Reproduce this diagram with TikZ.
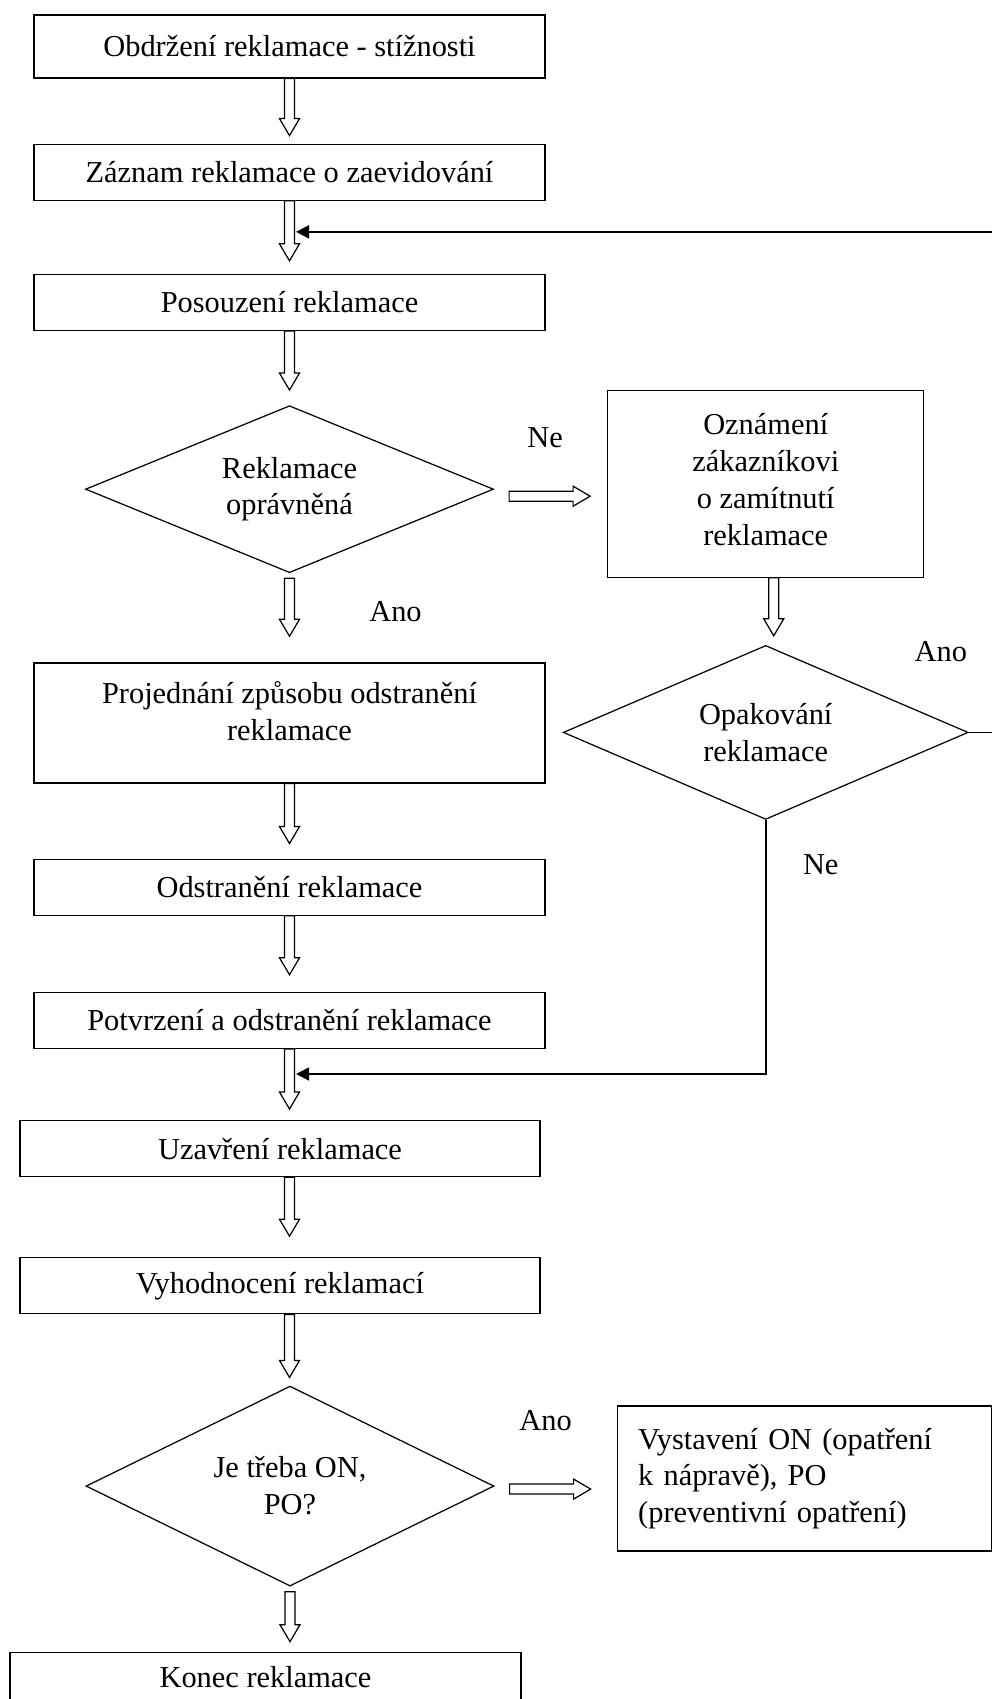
\documentclass[tikz,border=0pt]{standalone}
\usepackage{fontspec}
\setmainfont{Liberation Serif}
\usetikzlibrary{arrows.meta,positioning,calc,shapes.geometric}

% hollow block arrows (shaft + open head)
\newcommand{\hdown}[2]{%
  \draw[hollow] let \p1=#1, \p2=#2 in
    (\x1-0.1cm,\y1) -- (\x1-0.1cm,\y2+0.34cm) -- (\x1-0.2cm,\y2+0.34cm) -- (\x1,\y2)
    -- (\x1+0.2cm,\y2+0.34cm) -- (\x1+0.1cm,\y2+0.34cm) -- (\x1+0.1cm,\y1) -- cycle;}
\newcommand{\hright}[2]{%
  \draw[hollow] let \p1=#1, \p2=#2 in
    (\x1,\y1-0.1cm) -- (\x2-0.34cm,\y1-0.1cm) -- (\x2-0.34cm,\y1-0.2cm) -- (\x2,\y1)
    -- (\x2-0.34cm,\y1+0.2cm) -- (\x2-0.34cm,\y1+0.1cm) -- (\x1,\y1+0.1cm) -- cycle;}

\begin{document}
\begin{tikzpicture}[font=\fontsize{17.3}{21}\selectfont, >=Latex]
  \tikzstyle{box}=[draw, line width=0.7pt, align=center, minimum width=10.22cm, minimum height=1.12cm, inner sep=0pt]
  \tikzstyle{decide}=[draw, diamond, aspect=2.4, line width=0.7pt, align=center, inner sep=0pt, minimum width=8.16cm, minimum height=3.34cm]
  \tikzstyle{hollow}=[draw, fill=white, line width=0.7pt]
  \tikzstyle{fback}=[line width=1pt, -{Triangle[length=0.26cm,width=0.26cm]}]
  \tikzstyle{lbl}=[inner sep=0pt]

  \useasboundingbox (0,0) rectangle (19.84,-33.98);
  \clip (0,0) rectangle (19.84,-33.98);

  % main column
  \node[box, minimum height=1.26cm] (b1) at (5.79,-0.93) {Obdržení reklamace - stížnosti};
  \node[box, below=1.30cm of b1] (b2) {Záznam reklamace o zaevidování};
  \node[box, below=1.46cm of b2] (b3) {Posouzení reklamace};
  \node[decide, below=1.48cm of b3] (d1) {Reklamace\\oprávněná};
  \node[box, minimum height=2.4cm, text depth=0.46cm, below=1.78cm of d1] (b4) {Projednání způsobu odstranění\\reklamace};
  \node[box, below=1.5cm of b4] (b5) {Odstranění reklamace};
  \node[box, below=1.52cm of b5] (b6) {Potvrzení a odstranění reklamace};
  \node[box, minimum width=10.4cm, below=1.42cm of b6, xshift=-0.19cm] (b7) {Uzavření reklamace};
  \node[box, minimum width=10.4cm, below=1.6cm of b7] (b8) {Vyhodnocení reklamací};
  \node[decide, minimum height=4.0cm, below=1.42cm of b8, xshift=0.2cm] (d3) {Je třeba ON,\\PO?};
  \node[box, minimum height=1.0cm, below=1.3cm of d3, xshift=-0.49cm] (konec) {Konec reklamace};

  % right side
  \node[box, minimum width=6.32cm, minimum height=3.74cm, text depth=0.18cm, right=2.26cm of d1, yshift=0.11cm] (ozn) {Oznámení\\zákazníkovi\\o zamítnutí\\reklamace};
  \node[decide, minimum width=8.1cm, minimum height=3.48cm, below=1.34cm of ozn] (d2) {Opakování\\reklamace};
  \node[box, align=left, minimum width=7.48cm, minimum height=2.9cm, text width=6.64cm, inner xsep=0.42cm, right=2.44cm of d3, yshift=0.15cm] (vyst) {Vystavení ON (opatření\\k nápravě), PO\\(preventivní opatření)};

  % block arrows
  \hdown{(b1.south)}{($(b2.north)+(0,0.16)$)}
  \hdown{(b2.south)}{($(b3.north)+(0,0.26)$)}
  \hdown{(b3.south)}{($(d1.north)+(0,0.3)$)}
  \hdown{($(d1.south)+(0,-0.1)$)}{($(b4.north)+(0,0.52)$)}
  \hdown{(b4.south)}{($(b5.north)+(0,0.3)$)}
  \hdown{(b5.south)}{($(b6.north)+(0,0.34)$)}
  \hdown{(b6.south)}{($(b6.south |- b7.north)+(0,0.22)$)}
  \hdown{(b6.south |- b7.south)}{($(b6.south |- b8.north)+(0,0.42)$)}
  \hdown{(b6.south |- b8.south)}{($(d3.north)+(0,0.16)$)}
  \hdown{($(d3.south)+(0,-0.1)$)}{($(d3.south |- konec.north)+(0,0.2)$)}
  \hdown{($(ozn.south)+(0.16,0)$)}{($(d2.north)+(0.16,0.18)$)}
  \hright{($(d1.east)+(0.3,-0.14)$)}{($(ozn.west)+(-0.34,0)$)}
  \hright{($(d3.east)+(0.3,-0.06)$)}{($(vyst.west)+(-0.52,0)$)}

  % return lines
  \coordinate (tipa) at ($(b2.south)+(0.13,-0.62)$);
  \coordinate (tipb) at ($(b6.south)+(0.13,-0.5)$);
  \draw[fback] (d2.east) -- ++(1.0,0) |- (tipa);
  \draw[fback] (d2.south) |- (tipb);

  \node[lbl] (ne1) at ($(d1.east)+(1.02,1.02)$) {Ne};
  \node[lbl] (ano1) at ($(d1.south)+(2.12,-0.76)$) {Ano};
  \node[lbl] (ano2) at ($(d2.east)+(-0.56,1.62)$) {Ano};
  \node[lbl] (ne2) at ($(d2.south)+(1.1,-0.9)$) {Ne};
  \node[lbl] (ano3) at ($(d3.east)+(1.02,1.3)$) {Ano};
\end{tikzpicture}
\end{document}
